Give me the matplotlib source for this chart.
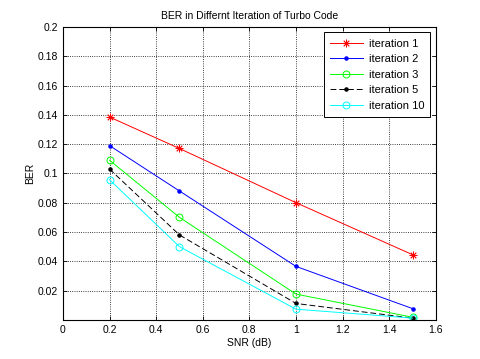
import matplotlib.pyplot as plt
import numpy as np

# SNR points and BER values per turbo decoding iteration
snr = [0.2, 0.5, 1.0, 1.5]
ber_it1 = [0.1385, 0.117, 0.080, 0.0445]
ber_it2 = [0.119, 0.088, 0.0365, 0.0077]
ber_it3 = [0.109, 0.070, 0.0176, 0.0018]
ber_it5 = [0.103, 0.058, 0.0112, 0.0012]
ber_it10 = [0.0957, 0.050, 0.0073, 0.0012]

xticks = [0, 0.2, 0.4, 0.6, 0.8, 1, 1.2, 1.4, 1.6]
yticks = [0.02, 0.04, 0.06, 0.08, 0.1, 0.12, 0.14, 0.16, 0.18, 0.2]

plt.rcParams['font.family'] = ['Liberation Sans', 'DejaVu Sans']
plt.rcParams['font.size'] = 7.5

fig = plt.figure(figsize=(4.8, 3.59), dpi=100)
ax = fig.add_axes([0.131, 0.109, 0.777, 0.816])

ax.plot(snr, ber_it1, color='red', lw=0.7, marker=(8, 2, 0), ms=5.5, mew=0.6, label='iteration 1')
ax.plot(snr, ber_it2, color='blue', lw=0.7, marker='.', ms=4.5, label='iteration 2')
ax.plot(snr, ber_it3, color='#00ff00', lw=0.7, marker='o', ms=5, mfc='none', mew=0.7, label='iteration 3')
ax.plot(snr, ber_it5, color='black', lw=0.7, ls='--', dashes=(6, 3), marker='.', ms=4.5, label='iteration 5')
ax.plot(snr, ber_it10, color='cyan', lw=0.7, marker='o', ms=5, mfc='none', mew=0.7, label='iteration 10')

ax.set_xlim(0, 1.6)
ax.set_ylim(0, 0.2)
ax.set_xticks(xticks)
ax.set_xticklabels(['0', '0.2', '0.4', '0.6', '0.8', '1', '1.2', '1.4', '1.6'])
ax.set_yticks(yticks)
ax.set_yticklabels(['0.02', '0.04', '0.06', '0.08', '0.1', '0.12', '0.14', '0.16', '0.18', '0.2'])
ax.grid(True, linestyle=':', color='black', lw=0.6)
ax.tick_params(direction='in', top=True, right=True, length=3, width=0.6)
for s in ax.spines.values():
    s.set_linewidth(0.8)

ax.set_title('BER in Differnt Iteration of Turbo Code', fontsize=7.5)
ax.set_xlabel('SNR (dB)', labelpad=2)
ax.set_ylabel('BER', labelpad=2)

leg = ax.legend(loc='upper right', fancybox=False, edgecolor='black', framealpha=1,
                fontsize=8, handlelength=3.0, borderpad=0.55, labelspacing=0.5,
                handletextpad=0.5, borderaxespad=0.5)
leg.get_frame().set_linewidth(0.7)

fig.savefig('out.png', dpi=100)
